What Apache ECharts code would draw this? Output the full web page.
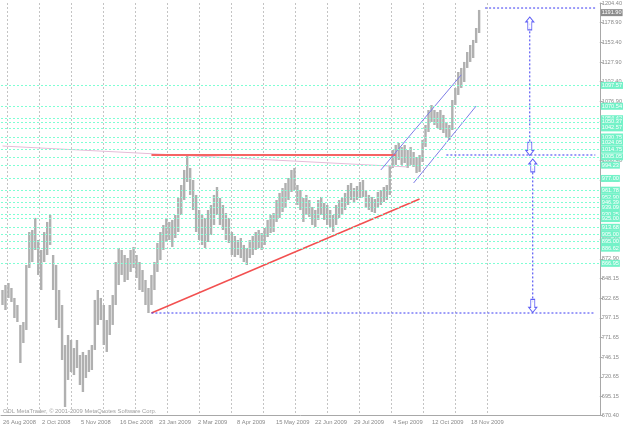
<!DOCTYPE html>
<html>
<head>
<meta charset="utf-8">
<script src="https://cdn.jsdelivr.net/npm/echarts@6/dist/echarts.min.js"></script>
<style>
  html, body { margin: 0; padding: 0; background: #fff; }
  #chart { width: 625px; height: 427px; }
</style>
</head>
<body>
<div id="chart"></div>
<script>
// gold daily bars, resampled (one bar ~ 2 sessions)
const highs = [
  832.4, 838.9, 841.5, 835.0, 822.1, 813.0, 787.1, 790.9, 864.8, 907.6,
  910.2, 925.8, 897.2, 884.3, 907.6, 920.6, 929.6, 877.8, 864.8, 832.4,
  813.0, 761.1, 774.1, 767.6, 757.2, 767.6, 748.2, 752.1, 748.2, 754.7,
  761.1, 819.5, 832.4, 822.1, 813.0, 793.5, 813.0, 825.9, 868.7, 886.9,
  884.3, 877.8, 873.9, 884.3, 888.2, 877.8, 868.7, 858.3, 845.4, 835.0,
  851.9, 868.7, 893.3, 907.6, 916.7, 925.8, 920.6, 923.2, 929.6, 951.7,
  968.5, 988.0, 1007.4, 990.6, 975.0, 955.6, 936.1, 929.6, 925.8, 936.1,
  942.6, 955.6, 965.9, 951.7, 942.6, 932.2, 925.8, 907.6, 902.4, 897.2,
  899.8, 890.8, 886.9, 897.2, 902.4, 907.6, 910.2, 906.3, 912.8, 923.2,
  929.6, 932.2, 949.1, 958.2, 964.6, 971.1, 977.6, 988.0, 990.6, 968.5,
  962.0, 951.7, 955.6, 949.1, 940.0, 936.1, 949.1, 953.0, 945.2, 942.6,
  936.1, 929.6, 942.6, 949.1, 951.7, 958.2, 968.5, 971.1, 964.6, 967.2,
  972.4, 975.0, 962.0, 955.6, 953.0, 950.4, 959.5, 962.0, 965.9, 968.5,
  994.5, 1013.9, 1020.4, 1023.0, 1017.8, 1020.4, 1013.9, 1017.8, 1011.3, 1004.8,
  1007.4, 1026.9, 1046.3, 1065.7, 1072.2, 1065.7, 1063.1, 1065.7, 1059.3, 1050.2,
  1046.3, 1078.7, 1094.3, 1115.0, 1120.2, 1128.0, 1140.9, 1150.0, 1156.5, 1172.0,
  1195.4
];
const lows = [
  813.0, 806.5, 822.1, 816.9, 796.1, 790.9, 737.8, 763.7, 780.6, 860.9,
  868.7, 884.3, 851.9, 832.4, 868.7, 877.8, 890.8, 832.4, 793.5, 783.2,
  741.7, 680.8, 715.8, 726.1, 722.2, 731.3, 709.3, 700.2, 718.4, 726.1,
  728.7, 754.7, 787.1, 793.5, 761.1, 752.1, 774.1, 787.1, 813.0, 838.9,
  851.9, 842.8, 845.4, 855.8, 860.9, 848.0, 832.4, 829.8, 813.0, 802.6,
  813.0, 832.4, 855.8, 871.3, 884.3, 894.6, 897.2, 888.2, 899.8, 907.6,
  929.6, 949.1, 972.4, 955.6, 936.1, 907.6, 897.2, 890.8, 886.9, 894.6,
  903.7, 916.7, 929.6, 916.7, 910.2, 897.2, 893.3, 877.8, 875.2, 877.8,
  873.9, 868.7, 864.8, 873.9, 877.8, 884.3, 886.9, 884.3, 890.8, 901.1,
  906.3, 907.6, 920.6, 925.8, 933.5, 938.7, 949.1, 959.5, 962.0, 942.6,
  936.1, 920.6, 929.6, 927.1, 916.7, 914.1, 923.2, 929.6, 923.2, 916.7,
  914.1, 907.6, 916.7, 925.8, 929.6, 936.1, 942.6, 949.1, 945.2, 949.1,
  951.7, 953.0, 938.7, 936.1, 933.5, 932.2, 938.7, 942.6, 946.5, 949.1,
  955.6, 990.6, 994.5, 1000.9, 994.5, 997.0, 990.6, 994.5, 991.9, 984.1,
  985.4, 998.3, 1017.8, 1037.2, 1050.2, 1046.3, 1042.4, 1039.8, 1035.9, 1029.4,
  1026.9, 1039.8, 1072.2, 1085.2, 1094.3, 1102.0, 1120.2, 1128.0, 1133.1, 1152.6,
  1165.5
];
const slotCount = 201;

const dateLabels = ['26 Aug 2008', '2 Oct 2008', '5 Nov 2008', '16 Dec 2008', '23 Jan 2009',
  '2 Mar 2009', '8 Apr 2009', '15 May 2009', '22 Jun 2009', '29 Jul 2009',
  '4 Sep 2009', '12 Oct 2009', '18 Nov 2009'];
const dateStep = 13.09; // slots between date labels

const priceLabels = ['1204.40', '1178.90', '1153.40', '1127.90', '1102.40', '1076.90',
  '1051.40', '1025.90', '1000.40', '974.90', '949.40', '923.90', '898.40', '872.90',
  '848.15', '822.65', '797.15', '771.65', '746.15', '720.65', '695.15', '670.40'];
const priceMin = 670.4;
const priceMax = 1204.4;
const priceStep = 25.5;

const levels = [1097.57, 1070.54, 1054.42, 1050.37, 1042.57, 1030.75, 1024.05, 1014.75,
  1005.05, 994.23, 977.00, 961.78, 952.90, 946.39, 939.09, 930.25, 925.00, 913.68,
  905.00, 895.00, 886.62, 866.95];
const bidPrice = 1191.90;

// drawn objects: [slot, price]
const redResistance = [[50, 1007.4], [132, 1007.4]];
const redSupport = [[50, 802.6], [140, 950.4]];
const pinkLine = [[0, 1019.0], [136, 991.9]];
const channelUpper = [[127, 988.0], [154, 1111.3]];
const channelLower = [[138, 971.1], [159, 1070.9]];
const targetTop = [[162, 1197.9], [199, 1197.9]];
const targetMid = [[149, 1007.4], [199, 1007.4]];
const targetBase = [[50, 802.6], [199, 802.6]];
const measureUp = [[177, 1178.0], [177, 1017.0]];
const measureDown = [[178, 990.0], [178, 815.0]];
const arrowsUp = [[177, 1177.9], [178, 993.8]];
const arrowsDown = [[177, 1015.2], [178, 811.7]];

const FONT = 'Liberation Sans';
const BLUE = '#3a3af2';
const chart = echarts.init(document.getElementById('chart'));

function segment(pts, color, width, type) {
  return {
    type: 'line', xAxisIndex: 0, yAxisIndex: 0, z: 3, silent: true,
    showSymbol: false, symbol: 'none', animation: false,
    lineStyle: { color: color, width: width, type: type },
    emphasis: { disabled: true },
    data: pts
  };
}

const option = {
  animation: false,
  grid: [
    { left: 0, right: 23, top: 3, bottom: 12 },
    { left: 7.5, width: 480, top: 3, bottom: 12 }
  ],
  xAxis: [
    { type: 'category', gridIndex: 0, show: false, boundaryGap: true,
      data: Array.from({ length: slotCount }, (_, i) => i) },
    { type: 'value', gridIndex: 0, position: 'bottom', min: 0, max: slotCount, interval: dateStep,
      axisLine: { show: true, lineStyle: { color: '#a8a8a8' } },
      axisTick: { show: false }, splitLine: { show: false },
      axisLabel: { align: 'left', margin: 4, padding: [0, 0, 0, 2], fontSize: 5.8, color: '#8a8a8a',
        fontFamily: FONT, showMaxLabel: false,
        formatter: function (v) {
          const k = Math.round(v / dateStep);
          if (Math.abs(v - k * dateStep) > 0.01) return '';
          return dateLabels[k] || '';
        } } },
    { type: 'value', gridIndex: 1, min: 0, max: 15, interval: 1,
      axisLine: { show: false }, axisTick: { show: false }, axisLabel: { show: false },
      splitLine: { show: true, lineStyle: { color: '#c4c4c4', type: [2, 2], width: 1 } } }
  ],
  yAxis: [
    { type: 'value', gridIndex: 0, min: priceMin, max: priceMax, show: false },
    { type: 'value', gridIndex: 0, position: 'right', inverse: true, min: 0,
      max: (priceMax - priceMin) / priceStep, interval: 1,
      axisLine: { show: true, lineStyle: { color: '#a8a8a8' } },
      axisTick: { show: true, length: 3, lineStyle: { color: '#a8a8a8' } },
      splitLine: { show: false },
      axisLabel: { margin: 2, fontSize: 5.6, color: '#8a8a8a', fontFamily: FONT,
        formatter: function (v, i) { return priceLabels[i] || ''; } } },
    { type: 'value', gridIndex: 1, show: false, splitLine: { show: false } }
  ],
  series: [
    {
      type: 'line', xAxisIndex: 0, yAxisIndex: 0, data: [], z: 1,
      markLine: {
        silent: true, symbol: ['none', 'none'], animation: false,
        lineStyle: { color: '#7fffd4', width: 1, type: [2, 2] },
        label: { show: true, position: 'end', distance: 1, color: '#ffffff',
          backgroundColor: '#74f2c8', fontSize: 5.6, fontFamily: FONT, padding: [1, 1, 0, 1],
          formatter: p => p.value.toFixed(2) },
        data: levels.map(v => ({ yAxis: v }))
          .concat([{ yAxis: bidPrice, lineStyle: { color: 'rgba(0,0,0,0)', width: 0 },
            label: { backgroundColor: '#8c8c8c', color: '#ffffff' } }])
      }
    },
    {
      type: 'custom', xAxisIndex: 0, yAxisIndex: 0, z: 2, silent: true,
      data: lows.map((l, i) => [i, l, highs[i]]),
      renderItem: function (params, api) {
        const lo = api.coord([api.value(0), api.value(1)]);
        const hi = api.coord([api.value(0), api.value(2)]);
        return {
          type: 'rect',
          shape: { x: lo[0] - 1.2, y: hi[1], width: 2.4, height: Math.max(1, lo[1] - hi[1]) },
          style: { fill: '#b0b0b0' }
        };
      }
    },
    segment(pinkLine, '#e6bcd8', 1, 'solid'),
    segment(redResistance, '#f56464', 2, 'solid'),
    segment(redSupport, '#f25050', 1.5, 'solid'),
    segment(channelUpper, '#7c7ce6', 1, 'solid'),
    segment(channelLower, '#7c7ce6', 1, 'solid'),
    segment(targetTop, BLUE, 1, [2, 2]),
    segment(targetMid, BLUE, 1, [2, 2]),
    segment(targetBase, BLUE, 1, [2, 2]),
    segment(measureUp, BLUE, 1, [2, 2]),
    segment(measureDown, BLUE, 1, [2, 2]),
    {
      type: 'scatter', xAxisIndex: 0, yAxisIndex: 0, z: 4, silent: true,
      symbol: 'path://M4,0 L8,5 L6,5 L6,13 L2,13 L2,5 L0,5 Z', symbolSize: [8, 13],
      itemStyle: { color: '#ffffff', borderColor: BLUE, borderWidth: 1 },
      data: arrowsUp
    },
    {
      type: 'scatter', xAxisIndex: 0, yAxisIndex: 0, z: 4, silent: true,
      symbol: 'path://M2,0 L6,0 L6,8 L8,8 L4,13 L0,8 L2,8 Z', symbolSize: [8, 13],
      itemStyle: { color: '#ffffff', borderColor: BLUE, borderWidth: 1 },
      data: arrowsDown
    }
  ],
  graphic: [
    { type: 'text', left: 3, top: 408, silent: true,
      style: { text: 'ODL MetaTrader, \u00a9 2001-2009 MetaQuotes Software Corp.',
        fill: '#a0a0a0', fontSize: 5.8, fontFamily: FONT } }
  ]
};
chart.setOption(option);
window.addEventListener('resize', function () { chart.resize(); });
</script>
</body>
</html>
